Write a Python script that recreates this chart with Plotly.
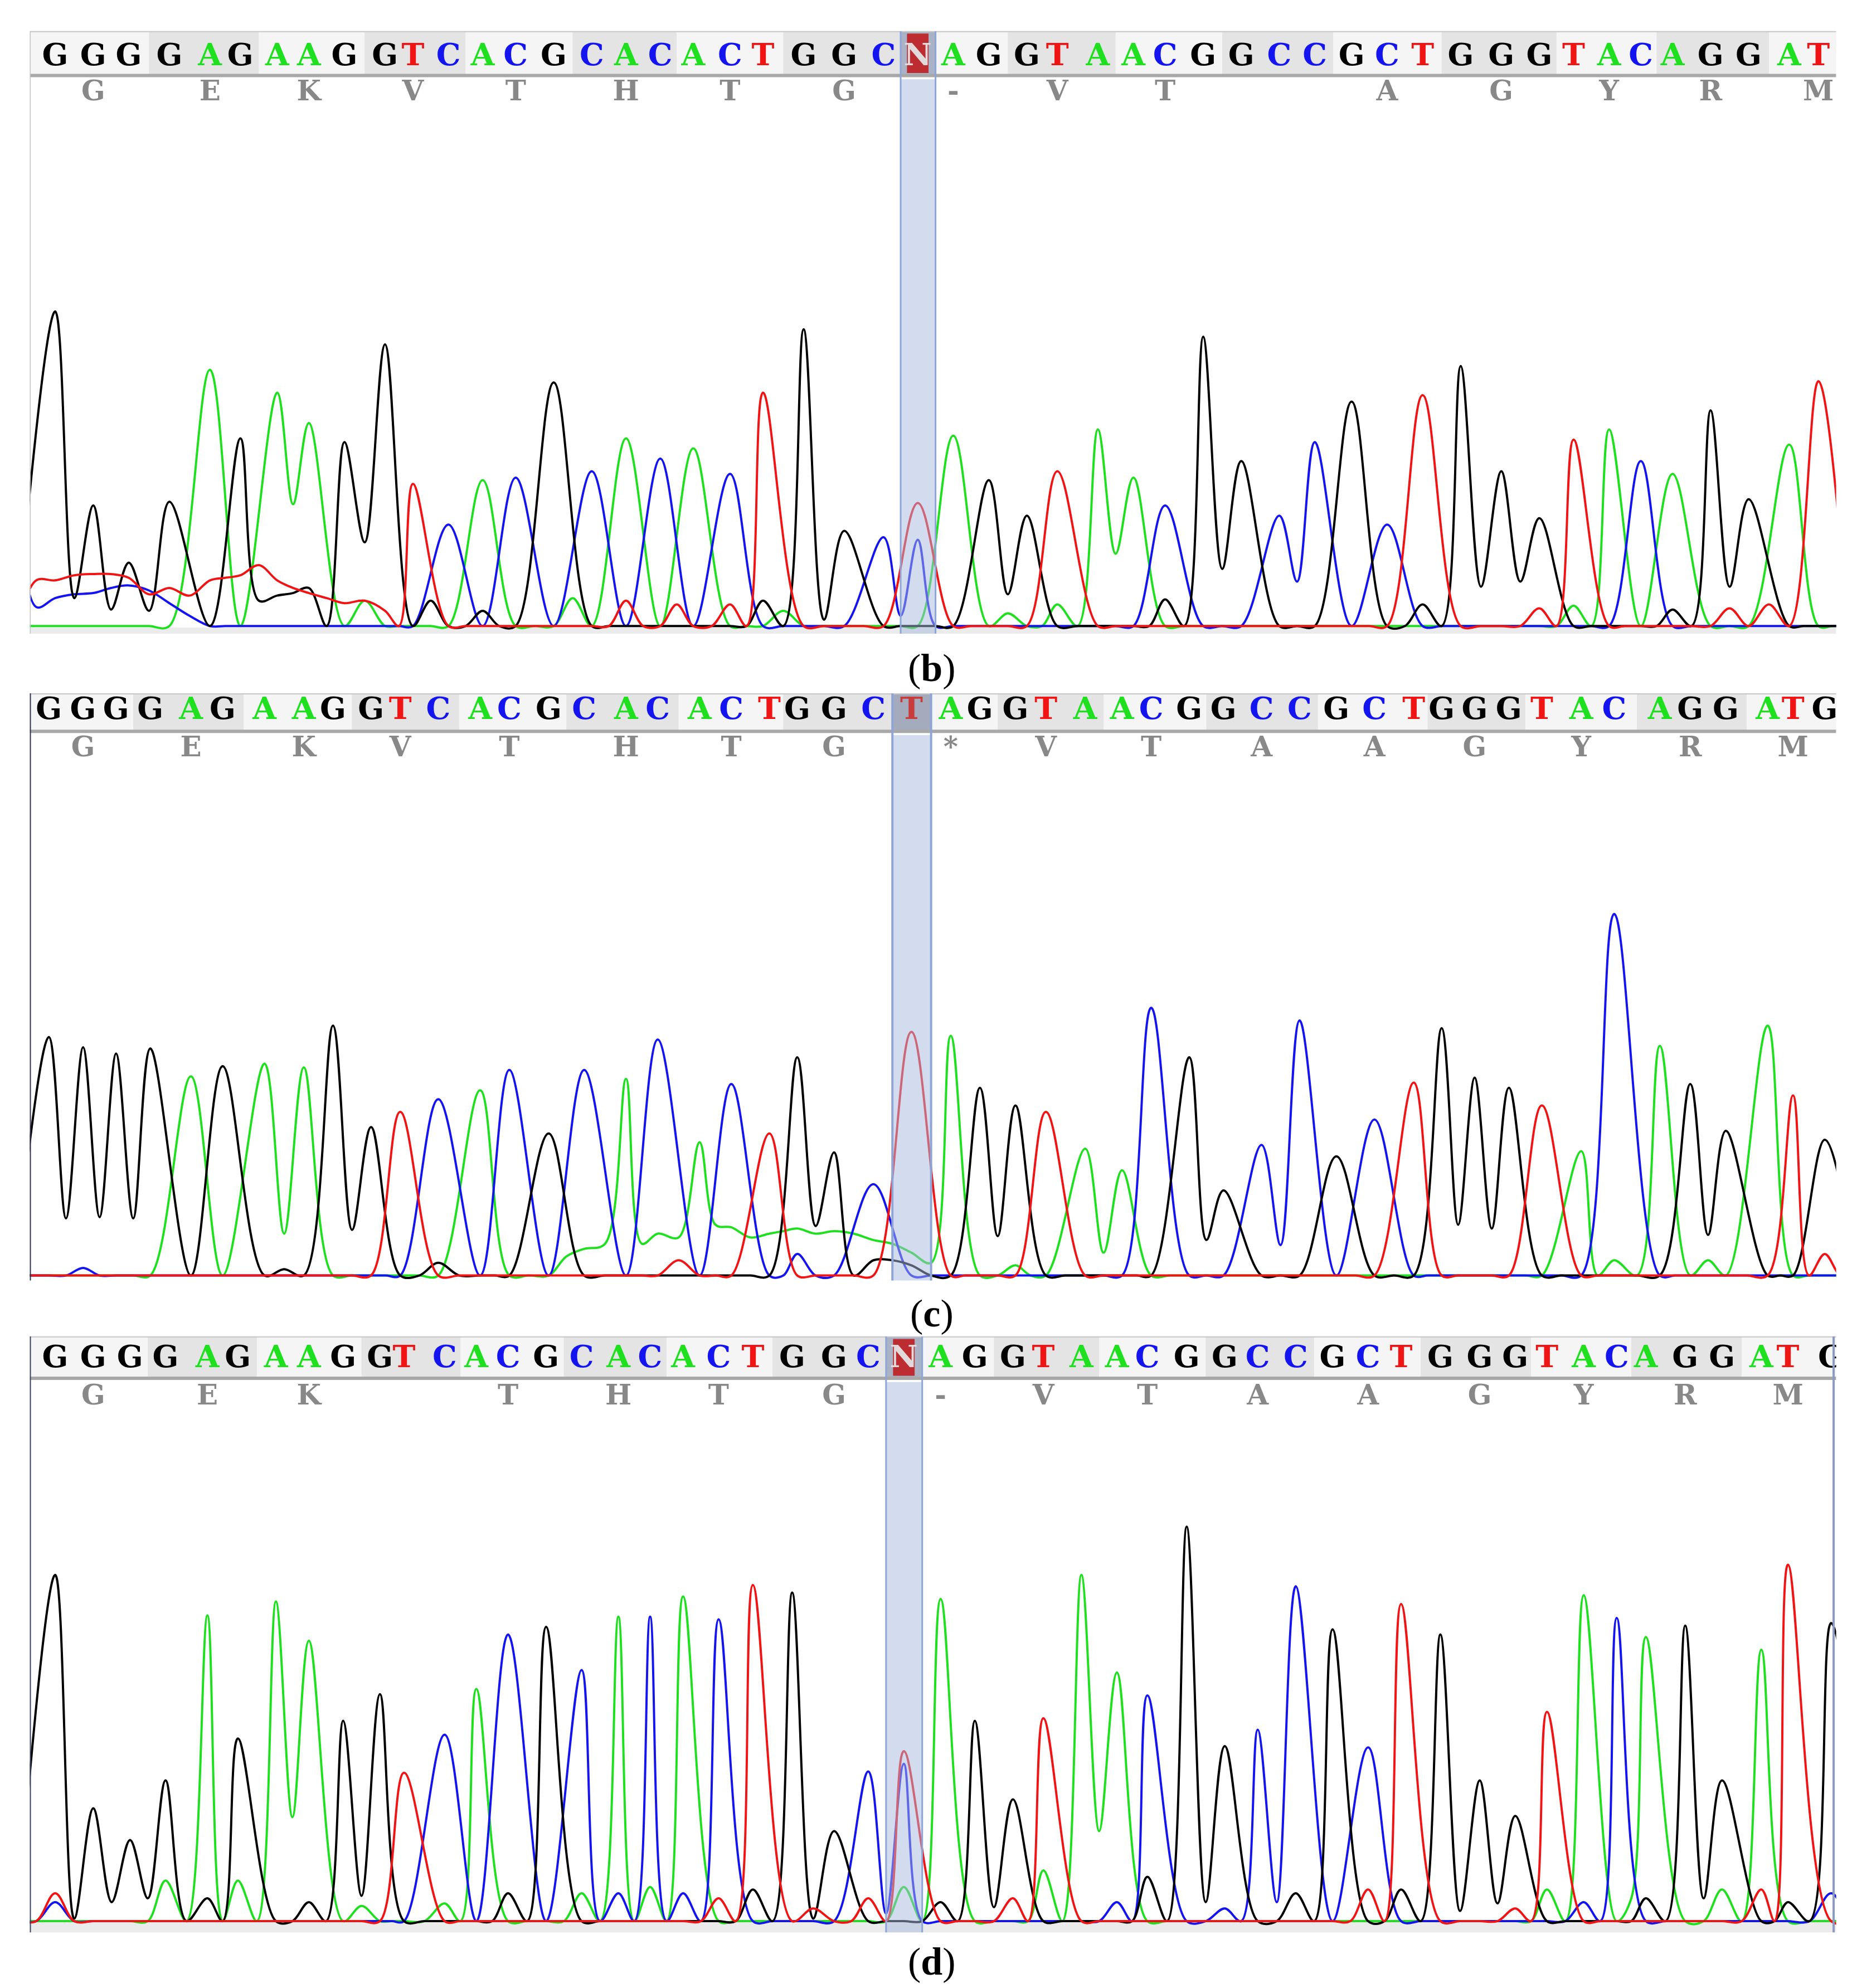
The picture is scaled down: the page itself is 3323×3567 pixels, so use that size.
import plotly.graph_objects as go

# scan positions / signal heights
b_seq = "GGGGAGAAGGTCACGCACACTGGCNAGGTAACGGCCGCTGGGTACAGGAT"
b_pos = [40, 70, 98, 130, 162, 186, 215, 240, 268, 300, 322, 350, 377, 403, 433, 463, 490, 517, 543, 572,
         598, 630, 662, 693, 720, 748, 776, 806, 830, 862, 890, 915, 945, 975, 1005, 1033, 1062, 1090, 1118, 1148,
         1180, 1210, 1237, 1265, 1290, 1315, 1345, 1375, 1407, 1430]
b_hgt = [248, 95, 50, 98, 202, 148, 184, 160, 145, 222, 112, 80, 115, 117, 192, 122, 148, 132, 140, 120,
         184, 234, 75, 70, 97, 150, 115, 87, 122, 155, 117, 95, 228, 130, 87, 145, 177, 80, 182, 205,
         122, 85, 147, 155, 130, 120, 170, 100, 143, 193]
b_aa = ["G", "E", "K", "V", "T", "H", "T", "G", "-", "V", "T", "", "A", "G", "Y", "R", "M"]
b_valley = {0: 22, 1: 13, 2: 12, 6: 96, 8: 66, 21: 5, 26: 25, 29: 57, 32: 45, 34: 35, 39: 31, 40: 35, 46: 31}
b_minor = [("C", 720, 68), ("C", 706, 8),
           ("T", 25, 36), ("T", 40, 36), ("T", 55, 40), ("T", 70, 41), ("T", 84, 41), ("T", 98, 38),
           ("T", 114, 25), ("T", 130, 30), ("T", 146, 24), ("T", 162, 36), ("T", 174, 38), ("T", 186, 40),
           ("T", 200, 48), ("T", 215, 36), ("T", 227, 30), ("T", 240, 26), ("T", 254, 22), ("T", 268, 18),
           ("T", 284, 20), ("T", 300, 12),
           ("C", 10, 200), ("C", 25, 15), ("C", 40, 22), ("C", 55, 25), ("C", 70, 26), ("C", 84, 30),
           ("C", 98, 32), ("C", 114, 28), ("C", 130, 18), ("C", 146, 8),
           ("G", 200, 20), ("G", 215, 24), ("G", 227, 26), ("G", 240, 30), ("G", 343, 20), ("G", 371, 12),
           ("G", 596, 20), ("A", 292, 20), ("A", 455, 22), ("A", 617, 12), ("T", 492, 20), ("T", 534, 17),
           ("T", 568, 17), ("A", 791, 10), ("A", 829, 17), ("G", 914, 21), ("G", 1117, 17), ("A", 1232, 16),
           ("T", 1206, 14), ("G", 1312, 13), ("T", 1364, 14), ("T", 1390, 17)]

c_seq = "GGGGAGAAGGTCACGCACACTGGCTAGGTAACGGCCGCTGGGTACAGGATG"
c_pos = [35, 62, 88, 115, 147, 172, 205, 236, 259, 289, 312, 342, 375, 398, 429, 457, 490, 515, 548, 573,
         603, 625, 654, 685, 715, 746, 769, 797, 821, 852, 881, 904, 934, 961, 991, 1021, 1050, 1080, 1111, 1133,
         1159, 1186, 1212, 1243, 1269, 1305, 1329, 1357, 1390, 1410, 1435]
c_hgt = [188, 180, 175, 179, 157, 165, 167, 164, 197, 117, 129, 139, 146, 162, 112, 162, 155, 186, 105, 151,
         112, 172, 97, 72, 192, 189, 148, 134, 129, 100, 83, 211, 172, 67, 103, 201, 94, 123, 152, 195,
         156, 148, 134, 98, 285, 181, 151, 114, 197, 142, 107]
c_aa = ["G", "E", "K", "V", "T", "H", "T", "G", "*", "V", "T", "A", "A", "G", "Y", "R", "M"]
c_valley = {0: 45, 1: 46, 2: 45, 6: 33, 8: 36, 21: 39, 26: 31, 29: 18, 32: 28, 34: 24, 39: 40, 40: 37, 46: 32}
c_minor = [("G", 336, 10), ("A", 443, 15), ("A", 457, 21), ("A", 473, 25), ("A", 503, 25), ("A", 515, 33),
           ("A", 531, 30), ("A", 560, 40), ("A", 573, 38), ("A", 588, 30), ("A", 603, 33), ("A", 614, 35),
           ("A", 625, 37), ("A", 639, 33), ("A", 654, 35), ("A", 669, 33), ("A", 685, 28), ("A", 700, 25),
           ("A", 715, 18), ("A", 730, 10), ("T", 527, 12), ("C", 624, 17), ("G", 678, 12), ("G", 700, 12),
           ("G", 715, 8), ("A", 796, 8), ("A", 1270, 12), ("A", 1347, 12), ("T", 1437, 17), ("C", 62, 6),
           ("G", 217, 5)]

d_seq = "GGGGAGAAGGTCACGCACACTGGCNAGGTAACGGCCGCTGGGTACAGGATG"
d_pos = [40, 70, 99, 127, 160, 184, 214, 240, 267, 296, 315, 347, 372, 397, 427, 455, 484, 509, 535, 563,
         590, 621, 654, 681, 709, 738, 765, 795, 819, 849, 877, 901, 932, 962, 988, 1018, 1047, 1075, 1101, 1132,
         1163, 1191, 1216, 1245, 1271, 1294, 1325, 1354, 1385, 1406, 1440]
d_hgt = [273, 89, 64, 111, 241, 144, 252, 221, 158, 179, 117, 147, 183, 226, 232, 198, 240, 240, 256, 238,
         265, 259, 71, 118, 134, 254, 158, 96, 160, 273, 196, 178, 311, 138, 151, 264, 230, 137, 250, 226,
         111, 83, 165, 257, 239, 224, 233, 111, 214, 281, 235]
d_aa = ["G", "E", "K", "", "T", "H", "T", "G", "-", "V", "T", "A", "A", "G", "Y", "R", "M"]
d_valley = {0: 2, 1: 15, 2: 18, 6: 82, 8: 20, 21: 2, 26: 11, 29: 71, 32: 15, 34: 15, 39: 8, 40: 14, 46: 18}
d_minor = [("C", 709, 124), ("C", 695, 6), ("T", 36, 22), ("C", 36, 15), ("A", 129, 32), ("A", 181, 32),
           ("G", 155, 18), ("G", 237, 15), ("A", 280, 12), ("A", 343, 14), ("G", 399, 22), ("A", 452, 22),
           ("C", 483, 22), ("A", 508, 27), ("C", 536, 22), ("T", 562, 18), ("G", 593, 25), ("T", 640, 10),
           ("T", 680, 18), ("A", 708, 27), ("G", 737, 15), ("T", 794, 18), ("A", 817, 40), ("C", 871, 15),
           ("G", 902, 35), ("C", 956, 10), ("G", 1018, 22), ("T", 1074, 25), ("G", 1102, 25), ("T", 1190, 10),
           ("A", 1216, 25), ("C", 1242, 15), ("A", 1287, 18), ("G", 1296, 18), ("A", 1352, 25), ("T", 1378, 25),
           ("G", 1411, 15), ("C", 1435, 22)]

mark_index = 24  # highlighted base (N / T)

BASE_COLORS = {"A": "#1fe01f", "C": "#1414f0", "G": "#000000", "T": "#f01414"}
TRACE_ORDER = ["A", "C", "G", "T"]

# layout units: the page is 1460 x 1567 units, 1 unit = 3323/1460 px
W, H = 1460.0, 3567 * 1460.0 / 3323
X0, X1 = 20, 1444

PANELS = [
    dict(label="b", seq=b_seq, pos=b_pos, hgt=b_hgt, aa=b_aa, valley=b_valley, minor=b_minor,
         top=21, sep=56, base=490, bottom=496, letter=42, aa_y=70, label_y=523,
         edge="#c3c3c3", strip=True, right=None, cell="#aab2c6", box=True, mark_color="#e2dada"),
    dict(label="c", seq=c_seq, pos=c_pos, hgt=c_hgt, aa=c_aa, valley=c_valley, minor=c_minor,
         top=543, sep=573, base=1002, bottom=1006, letter=557, aa_y=587, label_y=1032,
         edge="#2e3550", strip=False, right=None, cell="#a4abbd", box=False, mark_color="#c83c3c"),
    dict(label="d", seq=d_seq, pos=d_pos, hgt=d_hgt, aa=d_aa, valley=d_valley, minor=d_minor,
         top=1050, sep=1083, base=1511, bottom=1520, letter=1068, aa_y=1098, label_y=1543,
         edge="#3a4266", strip=True, right="#8d9bc2", cell="#aab2c6", box=True, mark_color="#e2dada"),
]


def channel_curves(p):
    """One line per dye: peak tops at the calls, feet on the neighbouring calls."""
    pos = p["pos"]
    calls = [None] + ["T" if b == "N" else b for b in p["seq"]] + [None]
    hgt = [0] + list(p["hgt"]) + [0]
    vpos = [pos[0] - (pos[1] - pos[0])] + list(pos) + [pos[-1] + (pos[-1] - pos[-2])]
    grid, kind = [], []
    for i, x in enumerate(vpos):
        grid.append(x)
        kind.append(("base", i))
        if i < len(vpos) - 1:
            grid.append((x + vpos[i + 1]) / 2)
            kind.append(("mid", i))
    noise = {b: {} for b in TRACE_ORDER}
    for b, x, h in p["minor"]:
        k = min(range(len(grid)), key=lambda j: abs(grid[j] - x))
        noise[b][k] = max(noise[b].get(k, 0), h)
    curves = {}
    for b in TRACE_ORDER:
        xs, ys = [], []
        for k, (x, (typ, i)) in enumerate(zip(grid, kind)):
            if typ == "base":
                y = max(hgt[i] if calls[i] == b else 0, noise[b].get(k, 0))
            else:
                left, right = calls[i] == b, calls[i + 1] == b
                if left and right:
                    if (i - 1) not in p["valley"]:
                        continue
                    y = p["valley"][i - 1]
                elif left or right:
                    if k in noise[b]:
                        y = noise[b][k]
                    elif noise[b].get(k + 1 if left else k - 1, 0) > 0:
                        y = 0  # keep a small bump apart from the big peak next to it
                    else:
                        continue
                else:
                    y = noise[b].get(k, 0)
            xs.append(x)
            ys.append(y)
        curves[b] = (xs, ys)
    return curves


fig = go.Figure()
shapes = []
annotations = []
layout_axes = {}

for k, p in enumerate(PANELS, start=1):
    sfx = "" if k == 1 else str(k)
    xa, ya = "x" + sfx, "y" + sfx
    base = p["base"]
    y_top, y_sep, y_min = base - p["top"], base - p["sep"], base - p["bottom"]
    pos, seq = p["pos"], p["seq"]
    mids = [(a + b) / 2 for a, b in zip(pos[:-1], pos[1:])]

    layout_axes["xaxis" + sfx] = dict(domain=[X0 / W, X1 / W], range=[X0, X1], visible=False,
                                      anchor=ya, fixedrange=True)
    layout_axes["yaxis" + sfx] = dict(domain=[1 - p["bottom"] / H, 1 - p["top"] / H],
                                      range=[y_min, y_top], visible=False, anchor=xa, fixedrange=True)

    # sequence bar with codon shading
    shapes.append(dict(type="rect", xref=xa, yref=ya, x0=X0, x1=X1, y0=y_sep, y1=y_top,
                       fillcolor="#eeeeee", line_width=0, layer="below"))
    j = 0
    while j == 0 or 3 * j - 1 < len(mids):
        lo = X0 if j == 0 else mids[3 * j - 1]
        hi = mids[3 * j + 2] if 3 * j + 2 < len(mids) else X1
        shapes.append(dict(type="rect", xref=xa, yref=ya, x0=lo, x1=hi, y0=y_sep, y1=y_top,
                           fillcolor="#f5f5f5" if j % 2 == 0 else "#e4e4e4", line_width=0, layer="below"))
        j += 1
    # highlighted cell in the bar
    bx0, bx1 = mids[mark_index - 1], mids[mark_index]
    shapes.append(dict(type="rect", xref=xa, yref=ya, x0=bx0, x1=bx1, y0=y_sep, y1=y_top,
                       fillcolor=p["cell"], line_width=0, layer="below"))
    if p["box"]:
        shapes.append(dict(type="rect", xref=xa, yref=ya, x0=pos[mark_index] - 8.5, x1=pos[mark_index] + 8.5,
                           y0=y_sep + 2, y1=y_top - 2, fillcolor="#bd2c30", line_width=0, layer="below"))
    shapes.append(dict(type="line", xref=xa, yref=ya, x0=X0, x1=X1, y0=y_top, y1=y_top,
                       line=dict(color="#c6c6c6", width=4), layer="below"))
    shapes.append(dict(type="line", xref=xa, yref=ya, x0=X0, x1=X1, y0=y_sep, y1=y_sep,
                       line=dict(color="#a8a8a8", width=6), layer="below"))
    if p["strip"]:
        shapes.append(dict(type="rect", xref=xa, yref=ya, x0=X0, x1=X1, y0=y_min, y1=-1.2,
                           fillcolor="#ebebeb", line_width=0, layer="below"))

    # four dye channels
    curves = channel_curves(p)
    for b in TRACE_ORDER:
        xs, ys = curves[b]
        fig.add_trace(go.Scatter(x=xs, y=ys, mode="lines", xaxis=xa, yaxis=ya,
                                 line=dict(color=BASE_COLORS[b], width=4, shape="spline", smoothing=1),
                                 hoverinfo="skip", showlegend=False))

    # base calls and translation
    colors = [BASE_COLORS.get(ch, "#000000") for ch in seq]
    colors[mark_index] = p["mark_color"]
    fig.add_trace(go.Scatter(x=pos, y=[base - p["letter"]] * len(seq), text=list(seq), mode="text",
                             xaxis=xa, yaxis=ya, cliponaxis=True, hoverinfo="skip", showlegend=False,
                             textfont=dict(family="DejaVu Serif", size=55, color=colors, weight="bold")))
    aa_x = [pos[3 * j + 1] for j in range(len(p["aa"]))]
    fig.add_trace(go.Scatter(x=aa_x, y=[base - p["aa_y"]] * len(aa_x), text=p["aa"], mode="text",
                             xaxis=xa, yaxis=ya, hoverinfo="skip", showlegend=False,
                             textfont=dict(family="DejaVu Serif", size=50, color="#888888", weight="bold")))

    # selection band over the traces
    shapes.append(dict(type="rect", xref=xa, yref=ya, x0=bx0, x1=bx1, y0=y_min, y1=y_sep - 3,
                       fillcolor="#a7b9df", opacity=0.5, line_width=0, layer="above"))
    for bx in (bx0, bx1):
        shapes.append(dict(type="line", xref=xa, yref=ya, x0=bx, x1=bx, y0=y_min, y1=y_top,
                           line=dict(color="#8ea5d8", width=4 if k == 2 else 3), layer="above"))

    # panel edges
    shapes.append(dict(type="line", xref=xa, yref=ya, x0=X0, x1=X0, y0=y_min, y1=y_top,
                       line=dict(color=p["edge"], width=3 if k == 1 else 4), layer="above"))
    if p["right"]:
        shapes.append(dict(type="line", xref=xa, yref=ya, x0=1442, x1=1442, y0=y_min, y1=y_top,
                           line=dict(color=p["right"], width=4), layer="above"))

    annotations.append(dict(text="(<b>%s</b>)" % p["label"], xref="paper", yref="paper",
                            x=731 / W, y=1 - p["label_y"] / H, xanchor="center", yanchor="middle",
                            showarrow=False, font=dict(family="Liberation Serif", size=70, color="#000000")))

fig.update_layout(
    width=3323, height=3567,
    margin=dict(l=0, r=0, t=0, b=0),
    paper_bgcolor="#ffffff", plot_bgcolor="#ffffff",
    shapes=shapes, annotations=annotations,
    showlegend=False,
    **layout_axes,
)

fig.write_html("out.html")
